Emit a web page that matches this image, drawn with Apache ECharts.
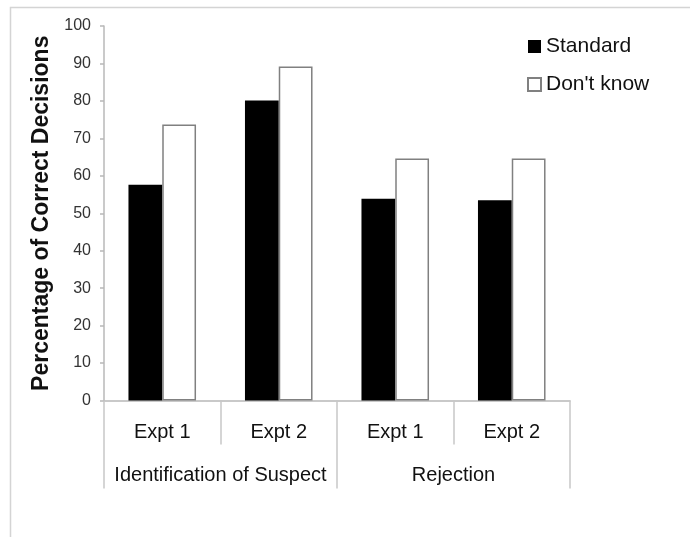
<!DOCTYPE html>
<html>
<head>
<meta charset="utf-8">
<script src="https://cdn.jsdelivr.net/npm/echarts@6/dist/echarts.min.js"></script>
<style>html,body{margin:0;padding:0;background:#fff}#c{width:690px;height:537px}</style>
</head>
<body>
<div id="c"></div>
<script>
var experiments = ['Expt 1', 'Expt 2', 'Expt 1', 'Expt 2'];
var groups = ['Identification of Suspect', 'Rejection'];
var standard = [57.6, 80.1, 53.9, 53.5];
var dontKnow = [73.7, 89.2, 64.6, 64.6];
var seriesNames = ['Standard', "Don't know"];
var yTitle = 'Percentage of Correct Decisions';

var font = '"Liberation Sans", Arial, sans-serif';
var chart = echarts.init(document.getElementById('c'), null, {renderer: 'canvas'});
chart.setOption({
  animation: false,
  backgroundColor: '#fff',
  textStyle: {fontFamily: font},
  graphic: [{
    type: 'rect', left: 8, top: 5,
    shape: {x: 0, y: 0, width: 720, height: 600},
    style: {fill: 'none', stroke: '#d4d4d4', lineWidth: 1.5},
    silent: true
  }],
  grid: {left: 104, top: 26, right: 120, bottom: 136.5, containLabel: false},
  legend: {
    orient: 'vertical', left: 522, top: 31, itemWidth: 13, itemHeight: 13, itemGap: 17,
    icon: 'rect',
    textStyle: {fontSize: 21, color: '#111', fontFamily: font},
    data: seriesNames
  },
  xAxis: [{
    type: 'category', data: experiments, position: 'bottom',
    axisLine: {show: true, lineStyle: {color: '#b8b8b8', width: 1.5}},
    axisTick: {show: true, length: 44, interval: 0, lineStyle: {color: '#c8c8c8', width: 1.5}},
    axisLabel: {fontSize: 20, color: '#111', margin: 22, interval: 0}
  }, {
    type: 'category', data: groups, position: 'bottom',
    axisLine: {show: false},
    axisTick: {show: true, length: 88, interval: 0, lineStyle: {color: '#c8c8c8', width: 1.5}},
    axisLabel: {fontSize: 20, color: '#111', margin: 65, interval: 0}
  }],
  yAxis: {
    type: 'value', min: 0, max: 100, interval: 10,
    name: yTitle, nameLocation: 'middle', nameRotate: 90, nameGap: 46,
    nameTextStyle: {fontSize: 23, fontWeight: 'bold', color: '#111', fontFamily: font},
    axisLine: {show: true, lineStyle: {color: '#b8b8b8', width: 1.5}},
    axisTick: {show: true, length: 4, lineStyle: {color: '#b8b8b8', width: 1.5}},
    axisLabel: {fontSize: 16, color: '#333', margin: 13},
    splitLine: {show: false}
  },
  series: [{
    name: seriesNames[0], type: 'bar', xAxisIndex: 0, data: standard,
    barGap: '0%', barCategoryGap: '42%',
    itemStyle: {color: '#000', borderColor: '#000', borderWidth: 0}
  }, {
    name: seriesNames[1], type: 'bar', xAxisIndex: 0, data: dontKnow,
    barGap: '0%', barCategoryGap: '42%',
    itemStyle: {color: '#fff', borderColor: '#808080', borderWidth: 1.5}
  }]
});
</script>
</body>
</html>
